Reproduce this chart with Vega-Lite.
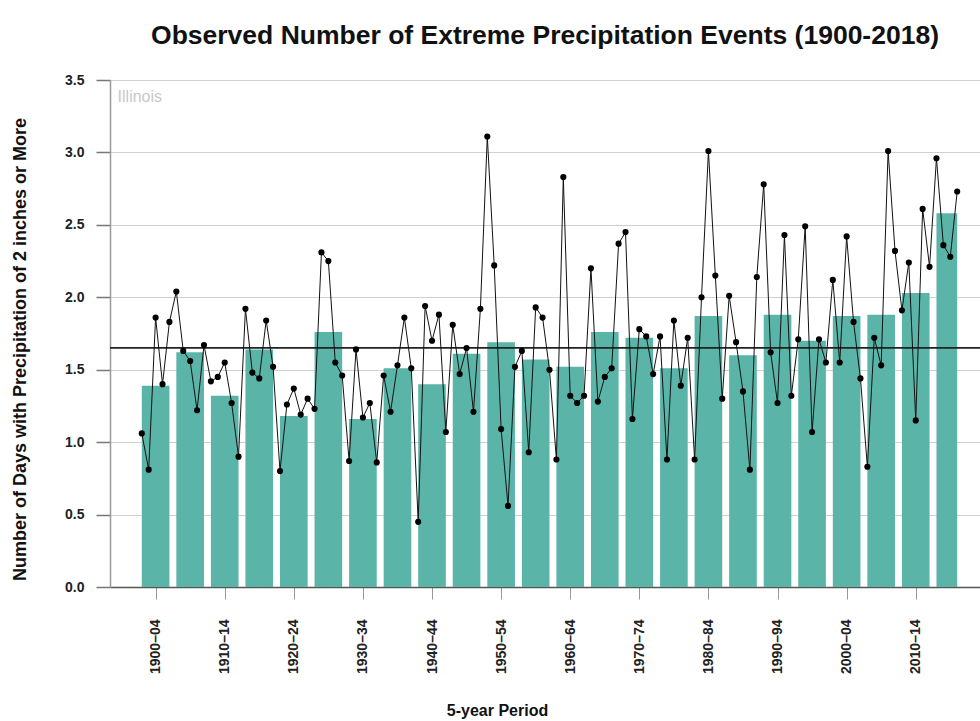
{
  "$schema": "https://vega.github.io/schema/vega-lite/v6.json",
  "autosize": {"type": "none"},
  "width": 870,
  "height": 507,
  "padding": {"left": 110, "top": 80, "right": 0, "bottom": 134},
  "background": "white",
  "title": {
    "text": "Observed Number of Extreme Precipitation Events (1900-2018)",
    "font": "Liberation Sans",
    "fontSize": 26.5,
    "fontWeight": "bold",
    "color": "#111111",
    "anchor": "middle",
    "offset": 24
  },
  "datasets": {
    "yearly": [
      {"year": 1900, "days": 1.06}, {"year": 1901, "days": 0.81}, {"year": 1902, "days": 1.86}, {"year": 1903, "days": 1.40}, {"year": 1904, "days": 1.83},
      {"year": 1905, "days": 2.04}, {"year": 1906, "days": 1.63}, {"year": 1907, "days": 1.56}, {"year": 1908, "days": 1.22}, {"year": 1909, "days": 1.67},
      {"year": 1910, "days": 1.42}, {"year": 1911, "days": 1.45}, {"year": 1912, "days": 1.55}, {"year": 1913, "days": 1.27}, {"year": 1914, "days": 0.90},
      {"year": 1915, "days": 1.92}, {"year": 1916, "days": 1.48}, {"year": 1917, "days": 1.44}, {"year": 1918, "days": 1.84}, {"year": 1919, "days": 1.52},
      {"year": 1920, "days": 0.80}, {"year": 1921, "days": 1.26}, {"year": 1922, "days": 1.37}, {"year": 1923, "days": 1.19}, {"year": 1924, "days": 1.30},
      {"year": 1925, "days": 1.23}, {"year": 1926, "days": 2.31}, {"year": 1927, "days": 2.25}, {"year": 1928, "days": 1.55}, {"year": 1929, "days": 1.46},
      {"year": 1930, "days": 0.87}, {"year": 1931, "days": 1.64}, {"year": 1932, "days": 1.17}, {"year": 1933, "days": 1.27}, {"year": 1934, "days": 0.86},
      {"year": 1935, "days": 1.46}, {"year": 1936, "days": 1.21}, {"year": 1937, "days": 1.53}, {"year": 1938, "days": 1.86}, {"year": 1939, "days": 1.51},
      {"year": 1940, "days": 0.45}, {"year": 1941, "days": 1.94}, {"year": 1942, "days": 1.70}, {"year": 1943, "days": 1.88}, {"year": 1944, "days": 1.07},
      {"year": 1945, "days": 1.81}, {"year": 1946, "days": 1.47}, {"year": 1947, "days": 1.65}, {"year": 1948, "days": 1.21}, {"year": 1949, "days": 1.92},
      {"year": 1950, "days": 3.11}, {"year": 1951, "days": 2.22}, {"year": 1952, "days": 1.09}, {"year": 1953, "days": 0.56}, {"year": 1954, "days": 1.52},
      {"year": 1955, "days": 1.63}, {"year": 1956, "days": 0.93}, {"year": 1957, "days": 1.93}, {"year": 1958, "days": 1.86}, {"year": 1959, "days": 1.50},
      {"year": 1960, "days": 0.88}, {"year": 1961, "days": 2.83}, {"year": 1962, "days": 1.32}, {"year": 1963, "days": 1.27}, {"year": 1964, "days": 1.32},
      {"year": 1965, "days": 2.20}, {"year": 1966, "days": 1.28}, {"year": 1967, "days": 1.45}, {"year": 1968, "days": 1.51}, {"year": 1969, "days": 2.37},
      {"year": 1970, "days": 2.45}, {"year": 1971, "days": 1.16}, {"year": 1972, "days": 1.78}, {"year": 1973, "days": 1.73}, {"year": 1974, "days": 1.47},
      {"year": 1975, "days": 1.73}, {"year": 1976, "days": 0.88}, {"year": 1977, "days": 1.84}, {"year": 1978, "days": 1.39}, {"year": 1979, "days": 1.72},
      {"year": 1980, "days": 0.88}, {"year": 1981, "days": 2.00}, {"year": 1982, "days": 3.01}, {"year": 1983, "days": 2.15}, {"year": 1984, "days": 1.30},
      {"year": 1985, "days": 2.01}, {"year": 1986, "days": 1.69}, {"year": 1987, "days": 1.35}, {"year": 1988, "days": 0.81}, {"year": 1989, "days": 2.14},
      {"year": 1990, "days": 2.78}, {"year": 1991, "days": 1.62}, {"year": 1992, "days": 1.27}, {"year": 1993, "days": 2.43}, {"year": 1994, "days": 1.32},
      {"year": 1995, "days": 1.71}, {"year": 1996, "days": 2.49}, {"year": 1997, "days": 1.07}, {"year": 1998, "days": 1.71}, {"year": 1999, "days": 1.55},
      {"year": 2000, "days": 2.12}, {"year": 2001, "days": 1.55}, {"year": 2002, "days": 2.42}, {"year": 2003, "days": 1.83}, {"year": 2004, "days": 1.44},
      {"year": 2005, "days": 0.83}, {"year": 2006, "days": 1.72}, {"year": 2007, "days": 1.53}, {"year": 2008, "days": 3.01}, {"year": 2009, "days": 2.32},
      {"year": 2010, "days": 1.91}, {"year": 2011, "days": 2.24}, {"year": 2012, "days": 1.15}, {"year": 2013, "days": 2.61}, {"year": 2014, "days": 2.21},
      {"year": 2015, "days": 2.96}, {"year": 2016, "days": 2.36}, {"year": 2017, "days": 2.28}, {"year": 2018, "days": 2.73}
    ],
    "periods": [
      {"period": "1900–04", "start": 1900, "end": 1904, "days": 1.39},
      {"period": "1905–09", "start": 1905, "end": 1909, "days": 1.62},
      {"period": "1910–14", "start": 1910, "end": 1914, "days": 1.32},
      {"period": "1915–19", "start": 1915, "end": 1919, "days": 1.64},
      {"period": "1920–24", "start": 1920, "end": 1924, "days": 1.18},
      {"period": "1925–29", "start": 1925, "end": 1929, "days": 1.76},
      {"period": "1930–34", "start": 1930, "end": 1934, "days": 1.16},
      {"period": "1935–39", "start": 1935, "end": 1939, "days": 1.51},
      {"period": "1940–44", "start": 1940, "end": 1944, "days": 1.40},
      {"period": "1945–49", "start": 1945, "end": 1949, "days": 1.61},
      {"period": "1950–54", "start": 1950, "end": 1954, "days": 1.69},
      {"period": "1955–59", "start": 1955, "end": 1959, "days": 1.57},
      {"period": "1960–64", "start": 1960, "end": 1964, "days": 1.52},
      {"period": "1965–69", "start": 1965, "end": 1969, "days": 1.76},
      {"period": "1970–74", "start": 1970, "end": 1974, "days": 1.72},
      {"period": "1975–79", "start": 1975, "end": 1979, "days": 1.51},
      {"period": "1980–84", "start": 1980, "end": 1984, "days": 1.87},
      {"period": "1985–89", "start": 1985, "end": 1989, "days": 1.60},
      {"period": "1990–94", "start": 1990, "end": 1994, "days": 1.88},
      {"period": "1995–99", "start": 1995, "end": 1999, "days": 1.70},
      {"period": "2000–04", "start": 2000, "end": 2004, "days": 1.87},
      {"period": "2005–09", "start": 2005, "end": 2009, "days": 1.88},
      {"period": "2010–14", "start": 2010, "end": 2014, "days": 2.03},
      {"period": "2015–18", "start": 2015, "end": 2018, "days": 2.58}
    ]
  },
  "config": {
    "view": {"stroke": null},
    "font": "Liberation Sans",
    "scale": {"continuousPadding": 0}
  },
  "layer": [
    {
      "data": {"name": "periods"},
      "mark": {"type": "bar", "color": "#5bb4a8", "orient": "vertical"},
      "encoding": {
        "x": {
          "field": "start", "type": "quantitative",
          "scale": {"domain": [1895.4, 2021.3], "nice": false, "zero": false, "padding": 0},
          "axis": {
            "title": "5-year Period",
            "titleFont": "Liberation Sans",
            "titleFontSize": 16,
            "titleFontWeight": "bold",
            "titleColor": "#111111",
            "titlePadding": 29,
            "titleX": 387,
            "values": [1902, 1907, 1912, 1917, 1922, 1927, 1932, 1937, 1942, 1947, 1952, 1957, 1962, 1967, 1972, 1977, 1982, 1987, 1992, 1997, 2002, 2007, 2012, 2016.5],
            "labelExpr": "(datum.value - 1902) % 10 === 0 ? (datum.value - 2) + '–' + ((datum.value + 2) % 100 < 10 ? '0' : '') + ((datum.value + 2) % 100) : ''",
            "labelAngle": -90,
            "labelFont": "Liberation Sans",
            "labelFontSize": 14,
            "labelFontWeight": "bold",
            "labelColor": "#222222",
            "labelPadding": 20,
            "labelOverlap": false,
            "tickSize": {"condition": {"test": "(datum.value - 1902) % 10 === 0", "value": 12}, "value": 6},
            "tickColor": "#999999",
            "domainColor": "#555555",
            "domainWidth": 1.5,
            "grid": false
          }
        },
        "x2": {"field": "end"},
        "y": {
          "field": "days", "type": "quantitative",
          "scale": {"domain": [0, 3.5], "nice": false, "padding": 0},
          "axis": {
            "title": "Number of Days with Precipitation of 2 inches or More",
            "titleFont": "Liberation Sans",
            "titleFontSize": 18,
            "titleFontWeight": "bold",
            "titleColor": "#111111",
            "titlePadding": 35,
            "titleY": 269,
            "values": [0, 0.5, 1, 1.5, 2, 2.5, 3, 3.5],
            "format": ".1f",
            "labelFont": "Liberation Sans",
            "labelFontSize": 14,
            "labelFontWeight": "bold",
            "labelColor": "#222222",
            "labelPadding": 12,
            "tickSize": 14,
            "tickColor": "#777777",
            "tickWidth": 1.5,
            "domainColor": "#999999",
            "domainWidth": 1.5,
            "grid": true,
            "gridColor": "#d0d0d0",
            "gridWidth": 1.2
          }
        },
        "y2": {"datum": 0}
      }
    },
    {
      "data": {"name": "yearly"},
      "mark": {"type": "rule", "color": "#222222", "strokeWidth": 1.8},
      "encoding": {
        "y": {"aggregate": "mean", "field": "days", "type": "quantitative"}
      }
    },
    {
      "data": {"name": "yearly"},
      "mark": {"type": "line", "color": "#111111", "strokeWidth": 1},
      "encoding": {
        "x": {"field": "year", "type": "quantitative"},
        "y": {"field": "days", "type": "quantitative"}
      }
    },
    {
      "data": {"name": "yearly"},
      "mark": {"type": "point", "filled": true, "color": "#000000", "size": 38, "opacity": 1},
      "encoding": {
        "x": {"field": "year", "type": "quantitative"},
        "y": {"field": "days", "type": "quantitative"}
      }
    },
    {
      "data": {"values": [{"label": "Illinois"}]},
      "mark": {"type": "text", "align": "left", "baseline": "middle", "font": "Liberation Sans", "fontSize": 16, "color": "#c8c8c8"},
      "encoding": {
        "text": {"field": "label", "type": "nominal"},
        "x": {"datum": 1896.5, "type": "quantitative"},
        "y": {"datum": 3.38, "type": "quantitative"}
      }
    }
  ]
}
